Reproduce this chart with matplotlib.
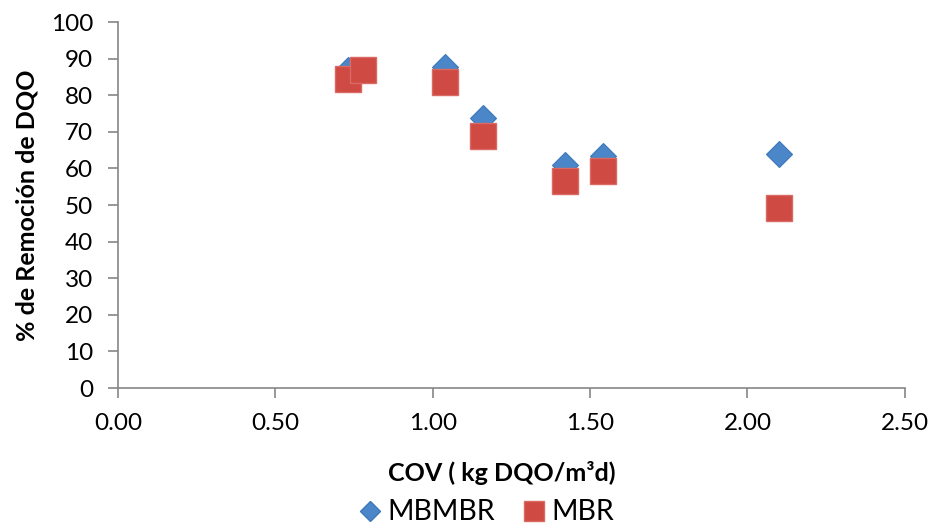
import matplotlib
matplotlib.use("Agg")
from matplotlib import pyplot as plt
from matplotlib.lines import Line2D

plt.rcParams['font.family'] = ['Lato', 'DejaVu Sans']

# data
cov_mbmbr = [0.73, 0.78, 1.04, 1.16, 1.42, 1.54, 2.10]
rem_mbmbr = [87.0, 87.0, 87.6, 73.9, 61.0, 63.5, 63.9]
cov_mbr = [0.73, 0.78, 1.04, 1.16, 1.42, 1.54, 2.10]
rem_mbr = [84.3, 86.9, 83.7, 68.9, 56.6, 59.4, 49.3]

xticks = [0.0, 0.5, 1.0, 1.5, 2.0, 2.5]
yticks = list(range(0, 101, 10))

blue = '#4A86C8'
red = '#CF4A43'
axis_gray = '#868686'

fig = plt.figure(figsize=(9.29, 5.24), dpi=100)
ax = fig.add_axes([0.127, 0.2595, 0.847, 0.6985])

ax.plot(cov_mbmbr, rem_mbmbr, linestyle='none', marker='D', markersize=13.5,
        markerfacecolor=blue, markeredgecolor='#3D78BA', markeredgewidth=0.8, zorder=3)
ax.plot(cov_mbr, rem_mbr, linestyle='none', marker='s', markersize=19,
        markerfacecolor=red, markeredgecolor='#D96A64', markeredgewidth=1.0, zorder=4)

ax.set_xlim(0, 2.5)
ax.set_ylim(0, 100)
ax.set_xticks(xticks)
ax.set_xticklabels(['%.2f' % v for v in xticks])
ax.set_yticks(yticks)

for side in ['top', 'right']:
    ax.spines[side].set_visible(False)
for side in ['left', 'bottom']:
    ax.spines[side].set_color(axis_gray)
    ax.spines[side].set_linewidth(1.2)
ax.tick_params(axis='both', colors=axis_gray, labelcolor='black', labelsize=17.5,
               length=7, width=1.2, direction='out')
ax.tick_params(axis='x', pad=11)
ax.tick_params(axis='y', pad=11)

ax.set_ylabel('% de Remoción de DQO', fontsize=18, fontweight='bold', labelpad=9)
ax.set_xlabel('COV ( kg DQO/m³d)', fontsize=18, fontweight='bold', labelpad=14)
ax.xaxis.set_label_coords(0.488, -0.2)
ax.xaxis.label.set_verticalalignment('top')

handles = [
    Line2D([], [], linestyle='none', marker='D', markersize=10.5, markerfacecolor=blue,
           markeredgecolor='#3D78BA'),
    Line2D([], [], linestyle='none', marker='s', markersize=14, markerfacecolor=red,
           markeredgecolor='#D96A64'),
]
fig.legend(handles, ['MBMBR', 'MBR'], loc='center', bbox_to_anchor=(0.522, 0.022),
           ncol=2, frameon=False, fontsize=20.5, handletextpad=0.1, columnspacing=0.9,
           handlelength=1.0, borderpad=0)

fig.savefig('out.png', dpi=100)
